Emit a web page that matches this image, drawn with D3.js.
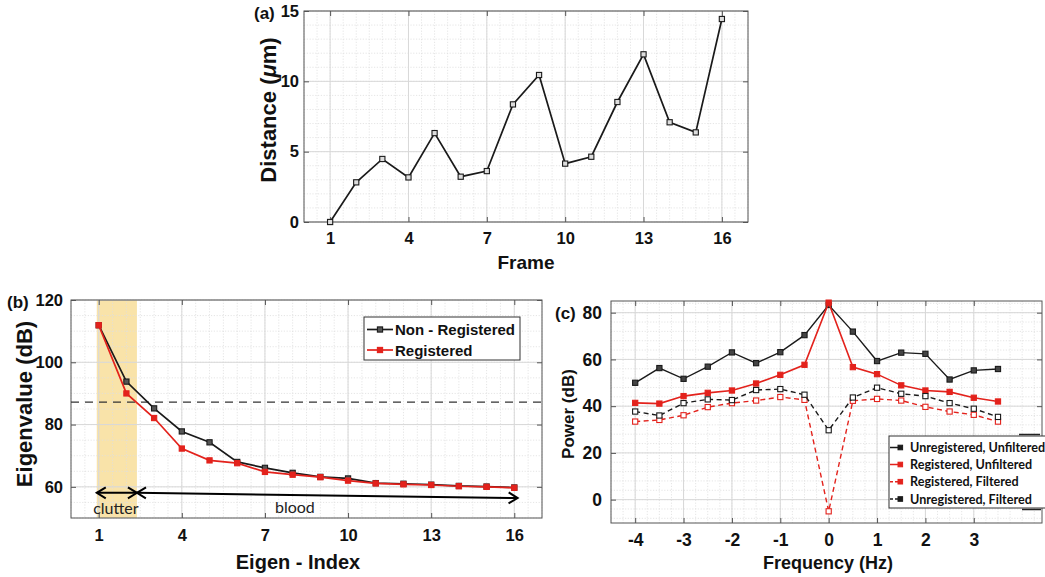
<!DOCTYPE html>
<html>
<head>
<meta charset="utf-8">
<script src="https://cdn.jsdelivr.net/npm/d3@7"></script>
<style>
  html, body { margin: 0; padding: 0; background: #fff; }
  svg { display: block; }
  text { font-family: "Liberation Sans", Arial, sans-serif; }
</style>
</head>
<body>
<script>
// ---------------- DATA ----------------
// Panel (a)
const frames = [1, 2, 3, 4, 5, 6, 7, 8, 9, 10, 11, 12, 13, 14, 15, 16];
const distance = [0, 2.82, 4.48, 3.17, 6.32, 3.22, 3.62, 8.36, 10.45, 4.15, 4.64, 8.53, 11.92, 7.09, 6.37, 14.43];
const aXTicks = [1, 4, 7, 10, 13, 16];
const aYTicks = [0, 5, 10, 15];

// Panel (b)
const eigenIndex = [1, 2, 3, 4, 5, 6, 7, 8, 9, 10, 11, 12, 13, 14, 15, 16];
const nonRegistered = [111.9, 93.8, 85.2, 77.8, 74.3, 68.0, 66.1, 64.5, 63.2, 62.7, 61.2, 61.0, 60.7, 60.3, 60.1, 59.8];
const registered = [111.9, 90.0, 82.1, 72.3, 68.5, 67.6, 64.8, 63.9, 63.1, 62.0, 61.1, 60.8, 60.6, 60.2, 60.0, 59.7];
const threshold = 87.2;
const clutterRange = [0.93, 2.38];
const bloodEnd = 16.12;
const bXTicks = [1, 4, 7, 10, 13, 16];
const bYTicks = [60, 80, 100, 120];
const bSeriesNames = ["Non - Registered", "Registered"];

// Panel (c)
const frequency = [-4, -3.5, -3, -2.5, -2, -1.5, -1, -0.5, 0, 0.5, 1, 1.5, 2, 2.5, 3, 3.5];
const unregUnfiltered = [50.0, 56.3, 51.7, 56.9, 63.0, 58.4, 63.1, 70.4, 83.3, 71.9, 59.3, 62.9, 62.4, 51.4, 55.3, 55.9];
const regUnfiltered = [41.4, 41.1, 44.3, 45.7, 46.7, 49.7, 53.4, 57.7, 84.3, 56.7, 53.7, 48.9, 46.7, 46.1, 43.6, 42.0];
const regFiltered = [33.4, 34.1, 36.1, 39.6, 41.3, 42.4, 43.9, 42.7, -5.0, 42.3, 43.1, 42.4, 39.7, 37.7, 36.3, 33.4];
const unregFiltered = [37.7, 36.0, 41.3, 42.9, 42.6, 46.9, 47.3, 44.9, 29.7, 43.7, 47.9, 45.3, 44.3, 41.3, 38.9, 35.4];
const cXTicks = [-4, -3, -2, -1, 0, 1, 2, 3];
const cYTicks = [0, 20, 40, 60, 80];
const cSeriesNames = ["Unregistered, Unfiltered", "Registered, Unfiltered", "Registered, Filtered", "Unregistered, Filtered"];

// ---------------- STYLE ----------------
const RED = "#e3221c";
const BLACK = "#1a1a1a";
const BOX = "#555";
const GRID_MAJOR = "#d8d8d8";
const GRID_MINOR = "#dedede";
const fmt = d => String(d); // plain hyphen-minus like the reference

const svg = d3.select("body").append("svg")
  .attr("width", 1045).attr("height", 577)
  .style("background", "#fff");

function panel(o) {
  const x = d3.scaleLinear().domain(o.xDomain).range([o.left, o.right]);
  const y = d3.scaleLinear().domain(o.yDomain).range([o.bottom, o.top]);
  const g = svg.append("g");
  g.append("rect").attr("x", o.left).attr("y", o.top)
    .attr("width", o.right - o.left).attr("height", o.bottom - o.top).attr("fill", "#fff");
  const under = g.append("g");
  const grid = g.append("g");
  const eps = 1e-9;
  const xMin = d3.range(Math.ceil(o.xDomain[0] / o.xMinor) * o.xMinor, o.xDomain[1] + eps, o.xMinor);
  const yMin = d3.range(Math.ceil(o.yDomain[0] / o.yMinor) * o.yMinor, o.yDomain[1] + eps, o.yMinor);
  grid.selectAll(".vx").data(xMin).join("line")
    .attr("x1", d => x(d)).attr("x2", d => x(d)).attr("y1", o.top).attr("y2", o.bottom)
    .attr("stroke", GRID_MINOR).attr("stroke-width", 0.8).attr("stroke-dasharray", "1.2,1.6");
  grid.selectAll(".hy").data(yMin).join("line")
    .attr("y1", d => y(d)).attr("y2", d => y(d)).attr("x1", o.left).attr("x2", o.right)
    .attr("stroke", GRID_MINOR).attr("stroke-width", 0.8).attr("stroke-dasharray", "1.2,1.6");
  grid.selectAll(".mx").data(o.xTicks).join("line")
    .attr("x1", d => x(d)).attr("x2", d => x(d)).attr("y1", o.top).attr("y2", o.bottom)
    .attr("stroke", GRID_MAJOR).attr("stroke-width", 1);
  grid.selectAll(".my").data(o.yTicks).join("line")
    .attr("y1", d => y(d)).attr("y2", d => y(d)).attr("x1", o.left).attr("x2", o.right)
    .attr("stroke", GRID_MAJOR).attr("stroke-width", 1);

  const fs = o.tickFont;
  const ax = g.append("g").attr("transform", `translate(0,${o.bottom})`)
    .call(d3.axisBottom(x).tickValues(o.xTicks).tickFormat(fmt).tickSizeInner(-5).tickSizeOuter(0).tickPadding(o.xPad));
  const axT = g.append("g").attr("transform", `translate(0,${o.top})`)
    .call(d3.axisTop(x).tickValues(o.xTicks).tickSizeInner(-5).tickSizeOuter(0).tickFormat(""));
  const ay = g.append("g").attr("transform", `translate(${o.left},0)`)
    .call(d3.axisLeft(y).tickValues(o.yTicks).tickFormat(fmt).tickSizeInner(-5).tickSizeOuter(0).tickPadding(o.yPad));
  const ayR = g.append("g").attr("transform", `translate(${o.right},0)`)
    .call(d3.axisRight(y).tickValues(o.yTicks).tickSizeInner(-5).tickSizeOuter(0).tickFormat(""));
  [ax, axT, ay, ayR].forEach(a => {
    a.select(".domain").remove();
    a.selectAll(".tick line").attr("stroke", BOX);
    a.selectAll("text").attr("font-size", fs).attr("font-weight", "bold")
      .attr("fill", "#111").style("font-family", '"Liberation Sans", Arial, sans-serif');
  });
  g.append("rect").attr("x", o.left).attr("y", o.top)
    .attr("width", o.right - o.left).attr("height", o.bottom - o.top)
    .attr("fill", "none").attr("stroke", BOX).attr("stroke-width", 1);
  const marks = g.append("g");
  return { x, y, g, under, marks };
}

function drawSeries(p, xs, ys, color, dashed, fill, width) {
  const pts = xs.map((d, i) => [d, ys[i]]);
  p.marks.append("path").datum(pts)
    .attr("d", d3.line().x(d => p.x(d[0])).y(d => p.y(d[1])))
    .attr("fill", "none").attr("stroke", color).attr("stroke-width", width || 1.6)
    .attr("stroke-dasharray", dashed ? "5,3.5" : null);
  p.marks.selectAll(null).data(pts).join("rect")
    .attr("x", d => p.x(d[0]) - 2.6).attr("y", d => p.y(d[1]) - 2.6)
    .attr("width", 5.2).attr("height", 5.2)
    .attr("fill", fill).attr("stroke", color).attr("stroke-width", 1.1);
}

function label(txt, x, y, size, opts = {}) {
  const t = svg.append("text").attr("x", x).attr("y", y)
    .attr("font-size", size).attr("font-weight", opts.weight || "bold")
    .attr("text-anchor", opts.anchor || "middle").attr("fill", "#111")
    .attr("dominant-baseline", "central");
  if (opts.family) t.style("font-family", opts.family);
  if (opts.rotate) t.attr("transform", `rotate(-90,${x},${y})`);
  t.text(txt);
  return t;
}

// ---------------- PANEL (a) ----------------
const pa = panel({
  left: 304, right: 748, top: 11, bottom: 222,
  xDomain: [0, 17], yDomain: [0, 15],
  xTicks: aXTicks, yTicks: aYTicks, xMinor: 0.5, yMinor: 1,
  tickFont: 16.5, xPad: 10, yPad: 5
});
drawSeries(pa, frames, distance, BLACK, false, "#ddd", 1.7);
label("(a)", 254, 13, 17, { anchor: "start" });
{
  const t = svg.append("text").attr("x", 268).attr("y", 110)
    .attr("font-size", 22).attr("font-weight", "bold").attr("text-anchor", "middle")
    .attr("dominant-baseline", "central").attr("fill", "#111")
    .attr("transform", "rotate(-90,268,110)");
  t.append("tspan").text("Distance (");
  t.append("tspan").attr("font-style", "italic").text("\u03bc");
  t.append("tspan").text("m)");
}
label("Frame", 526, 262, 19);

// ---------------- PANEL (b) ----------------
const pb = panel({
  left: 71, right: 542, top: 300, bottom: 518,
  xDomain: [0, 17], yDomain: [50, 120],
  xTicks: bXTicks, yTicks: bYTicks, xMinor: 0.5, yMinor: 5,
  tickFont: 16.5, xPad: 11, yPad: 8
});
pb.under.append("rect")
  .attr("x", pb.x(clutterRange[0])).attr("y", 300)
  .attr("width", pb.x(clutterRange[1]) - pb.x(clutterRange[0])).attr("height", 218)
  .attr("fill", "#f7d98c").attr("opacity", 0.75);
pb.marks.append("line")
  .attr("x1", 71).attr("x2", 542).attr("y1", pb.y(threshold)).attr("y2", pb.y(threshold))
  .attr("stroke", "#333").attr("stroke-width", 1.4).attr("stroke-dasharray", "8,6");
drawSeries(pb, eigenIndex, nonRegistered, BLACK, false, "#555", 1.7);
drawSeries(pb, eigenIndex, registered, RED, false, RED, 1.7);

// arrows
function chevron(g, xTip, yTip, dir, ang) {
  const L = 9, H = 5.5;
  const c = Math.cos(ang), s = Math.sin(ang);
  const bx = -dir * L, p1 = [bx, -H], p2 = [bx, H];
  const rot = p => [xTip + p[0] * c - p[1] * s, yTip + p[0] * s + p[1] * c];
  const a = rot(p1), b = rot(p2);
  g.append("path").attr("d", `M${a[0]},${a[1]}L${xTip},${yTip}L${b[0]},${b[1]}`)
    .attr("fill", "none").attr("stroke", "#000").attr("stroke-width", 2);
}
{
  const yC = pb.y(58.1);
  const xa = pb.x(clutterRange[0]), xb = pb.x(clutterRange[1]);
  pb.marks.append("line").attr("x1", xa).attr("x2", xb).attr("y1", yC).attr("y2", yC)
    .attr("stroke", "#000").attr("stroke-width", 2);
  chevron(pb.marks, xa, yC, -1, 0);
  chevron(pb.marks, xb, yC, 1, 0);
  const yE = pb.y(56.4), xe = pb.x(bloodEnd);
  pb.marks.append("line").attr("x1", xb).attr("x2", xe).attr("y1", yC).attr("y2", yE)
    .attr("stroke", "#000").attr("stroke-width", 2);
  const ang = Math.atan2(yE - yC, xe - xb);
  chevron(pb.marks, xb, yC, -1, ang);
  chevron(pb.marks, xe, yE, 1, ang);
}
svg.append("text").attr("x", pb.x(1.62)).attr("y", 514).attr("text-anchor", "middle")
  .attr("font-size", 16).style("font-family", "Lato, 'Open Sans', sans-serif").attr("fill", "#222").text("clutter");
svg.append("text").attr("x", pb.x(8.08)).attr("y", 513).attr("text-anchor", "middle")
  .attr("font-size", 16).style("font-family", "Lato, 'Open Sans', sans-serif").attr("fill", "#222").text("blood");

// legend (b)
{
  const lg = svg.append("g");
  lg.append("rect").attr("x", 364).attr("y", 317).attr("width", 156).attr("height", 43)
    .attr("fill", "#fff").attr("stroke", "#333").attr("stroke-width", 1);
  const cols = [BLACK, RED], fills = ["#555", RED], ys = [329.5, 350];
  bSeriesNames.forEach((n, i) => {
    lg.append("line").attr("x1", 367).attr("x2", 393).attr("y1", ys[i]).attr("y2", ys[i])
      .attr("stroke", cols[i]).attr("stroke-width", 1.7);
    lg.append("rect").attr("x", 377.4).attr("y", ys[i] - 2.6).attr("width", 5.2).attr("height", 5.2)
      .attr("fill", fills[i]).attr("stroke", cols[i]).attr("stroke-width", 1.1);
    lg.append("text").attr("x", 395).attr("y", ys[i]).attr("dominant-baseline", "central")
      .attr("font-size", 15).attr("font-weight", "bold").attr("fill", "#111").text(n);
  });
}
label("(b)", 7, 302, 17, { anchor: "start" });
label("Eigenvalue (dB)", 24, 404, 22, { rotate: true });
label("Eigen - Index", 298, 562, 20);

// ---------------- PANEL (c) ----------------
const pc = panel({
  left: 611, right: 1042, top: 301, bottom: 523,
  xDomain: [-4.5, 4.41], yDomain: [-10, 85],
  xTicks: cXTicks, yTicks: cYTicks, xMinor: 0.25, yMinor: 4,
  tickFont: 17.5, xPad: 11, yPad: 9
});
drawSeries(pc, frequency, unregUnfiltered, BLACK, false, "#444", 1.4);
drawSeries(pc, frequency, regUnfiltered, RED, false, RED, 1.6);
drawSeries(pc, frequency, regFiltered, RED, true, "#fff", 1.4);
drawSeries(pc, frequency, unregFiltered, BLACK, true, "#fff", 1.4);

// legend (c)
{
  const lg = svg.append("g");
  lg.append("rect").attr("x", 889).attr("y", 436).attr("width", 170).attr("height", 72)
    .attr("fill", "#fff").attr("stroke", "#333").attr("stroke-width", 1);
  lg.append("line").attr("x1", 1019).attr("x2", 1040).attr("y1", 434.5).attr("y2", 434.5)
    .attr("stroke", "#222").attr("stroke-width", 1.5);
  lg.append("line").attr("x1", 1022).attr("x2", 1041).attr("y1", 509.5).attr("y2", 509.5)
    .attr("stroke", "#222").attr("stroke-width", 1.5);
  const cols = [BLACK, RED, RED, BLACK];
  const dashes = [null, null, "3,2", "3,2"];
  const ys = [447.5, 464.5, 481.7, 499];
  cSeriesNames.forEach((n, i) => {
    lg.append("line").attr("x1", 890).attr("x2", 899).attr("y1", ys[i]).attr("y2", ys[i])
      .attr("stroke", cols[i]).attr("stroke-width", 1.5).attr("stroke-dasharray", dashes[i]);
    lg.append("rect").attr("x", 898).attr("y", ys[i] - 2.3).attr("width", 4.6).attr("height", 4.6)
      .attr("fill", cols[i]).attr("stroke", cols[i]);
    lg.append("text").attr("x", 910).attr("y", ys[i]).attr("dominant-baseline", "central")
      .attr("font-size", 12.6).attr("font-weight", "bold")
      .style("font-family", "Lato, 'Open Sans', sans-serif").attr("fill", "#111").text(n);
  });
}
label("(c)", 555, 313, 17, { anchor: "start" });
label("Power (dB)", 568, 414, 17, { rotate: true });
label("Frequency (Hz)", 828, 563, 18);
</script>
</body>
</html>
